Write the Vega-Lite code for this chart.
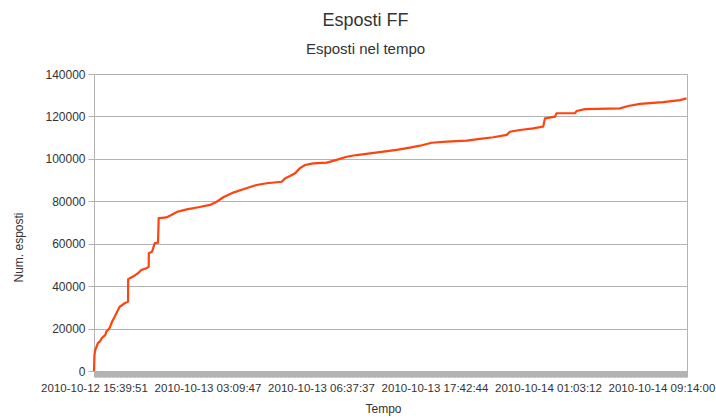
{
  "$schema": "https://vega.github.io/schema/vega-lite/v6.json",
  "width": 593,
  "height": 297,
  "autosize": {"type": "none"},
  "padding": {"left": 94, "top": 74, "right": 29, "bottom": 48},
  "background": "white",
  "title": {
    "text": "Esposti FF",
    "subtitle": "Esposti nel tempo",
    "font": "Liberation Sans",
    "subtitleFont": "Liberation Sans",
    "fontSize": 18,
    "subtitleFontSize": 15,
    "fontWeight": "normal",
    "color": "#333333",
    "subtitleColor": "#333333",
    "anchor": "middle",
    "dx": -25,
    "offset": 11,
    "subtitlePadding": 12
  },
  "config": {
    "view": {"stroke": "#b3b3b3", "strokeWidth": 1},
    "axis": {
      "labelFont": "Liberation Sans",
      "titleFont": "Liberation Sans",
      "labelFontSize": 12,
      "titleFontSize": 12,
      "labelColor": "#333333",
      "titleColor": "#333333",
      "titleFontWeight": "normal",
      "domainColor": "#b3b3b3",
      "tickColor": "#b3b3b3",
      "gridColor": "#b3b3b3"
    }
  },
  "data": {
    "values": [
      {"i": 0, "v": 0},
      {"i": 0.4, "v": 7500},
      {"i": 1.1, "v": 9900},
      {"i": 3.5, "v": 13200},
      {"i": 5.0, "v": 13800},
      {"i": 7.0, "v": 15600},
      {"i": 10.0, "v": 17000},
      {"i": 10.8, "v": 18500},
      {"i": 13.8, "v": 20300},
      {"i": 15.9, "v": 23200},
      {"i": 18.2, "v": 25600},
      {"i": 20.5, "v": 28000},
      {"i": 22.6, "v": 30300},
      {"i": 27.0, "v": 31900},
      {"i": 30.0, "v": 32700},
      {"i": 30.1, "v": 43300},
      {"i": 34.4, "v": 44500},
      {"i": 38.8, "v": 46100},
      {"i": 41.7, "v": 47600},
      {"i": 46.1, "v": 48400},
      {"i": 48.2, "v": 49200},
      {"i": 48.3, "v": 55500},
      {"i": 51.1, "v": 56200},
      {"i": 53.5, "v": 60200},
      {"i": 56.4, "v": 60500},
      {"i": 57.0, "v": 72000},
      {"i": 63.7, "v": 72400},
      {"i": 68.1, "v": 73500},
      {"i": 73.4, "v": 75100},
      {"i": 81.7, "v": 76200},
      {"i": 91.9, "v": 77200},
      {"i": 102.2, "v": 78300},
      {"i": 108.1, "v": 79800},
      {"i": 113.9, "v": 81900},
      {"i": 122.7, "v": 84100},
      {"i": 131.5, "v": 85700},
      {"i": 143.3, "v": 87700},
      {"i": 152.1, "v": 88500},
      {"i": 165.4, "v": 89200},
      {"i": 168.3, "v": 90800},
      {"i": 172.7, "v": 91900},
      {"i": 177.1, "v": 93200},
      {"i": 181.5, "v": 95600},
      {"i": 185.9, "v": 97100},
      {"i": 193.2, "v": 97900},
      {"i": 205.0, "v": 98200},
      {"i": 213.8, "v": 99500},
      {"i": 222.6, "v": 101000},
      {"i": 231.4, "v": 101800},
      {"i": 243.2, "v": 102600},
      {"i": 254.9, "v": 103400},
      {"i": 266.7, "v": 104200},
      {"i": 278.4, "v": 105300},
      {"i": 287.2, "v": 106200},
      {"i": 297.5, "v": 107600},
      {"i": 310.7, "v": 108100},
      {"i": 328.4, "v": 108600},
      {"i": 340.1, "v": 109400},
      {"i": 351.8, "v": 110200},
      {"i": 363.6, "v": 111300},
      {"i": 366.5, "v": 112800},
      {"i": 375.3, "v": 113600},
      {"i": 387.0, "v": 114400},
      {"i": 395.8, "v": 115200},
      {"i": 397.3, "v": 119100},
      {"i": 406.1, "v": 119900},
      {"i": 407.6, "v": 121500},
      {"i": 423.8, "v": 121500},
      {"i": 425.3, "v": 122600},
      {"i": 432.6, "v": 123400},
      {"i": 463.4, "v": 123800},
      {"i": 470.7, "v": 124900},
      {"i": 481.0, "v": 125900},
      {"i": 501.6, "v": 126700},
      {"i": 516.2, "v": 127700},
      {"i": 522.1, "v": 128500}
    ]
  },
  "mark": {"type": "line", "color": "#ff420e", "strokeWidth": 2.2, "interpolate": "linear"},
  "encoding": {
    "x": {
      "field": "i",
      "type": "quantitative",
      "scale": {"domain": [0, 522.5], "nice": false, "zero": false},
      "axis": {
        "title": "Tempo",
        "grid": false,
        "tickCount": 1045,
        "tickSize": 6,
        "tickWidth": 1,
        "labelFontSize": 11.5,
        "labelPadding": 5,
        "labelOverlap": false,
        "labelFlush": false,
        "labelBound": false,
        "labelExpr": "datum.value % 100 == 0 ? ['2010-10-12 15:39:51','2010-10-13 03:09:47','2010-10-13 06:37:37','2010-10-13 17:42:44','2010-10-14 01:03:12','2010-10-14 09:14:00'][datum.value / 100] : ''",
        "titlePadding": 10,
        "titleX": 289
      }
    },
    "y": {
      "field": "v",
      "type": "quantitative",
      "scale": {"domain": [0, 140000], "nice": false},
      "axis": {
        "title": "Num. esposti",
        "values": [0, 20000, 40000, 60000, 80000, 100000, 120000, 140000],
        "format": "d",
        "grid": true,
        "tickSize": 6,
        "labelPadding": 3,
        "titlePadding": 19,
        "titleY": 173
      }
    }
  }
}
